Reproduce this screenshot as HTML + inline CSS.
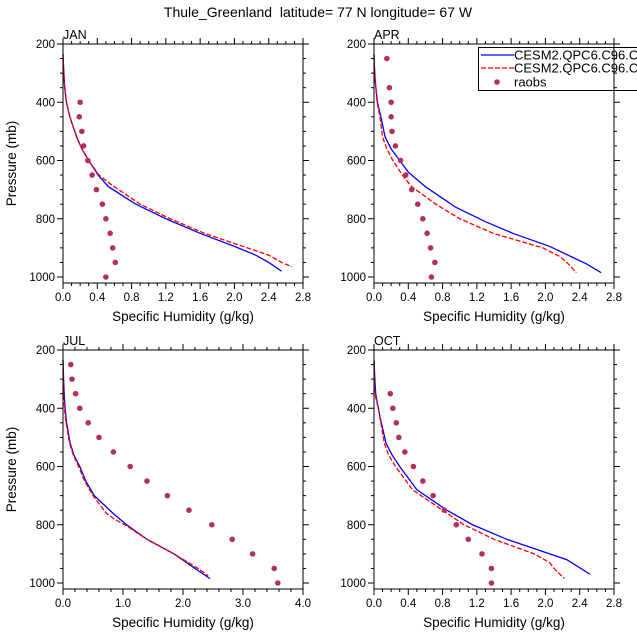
<!DOCTYPE html>
<html><head><meta charset="utf-8"><style>
html,body{margin:0;padding:0;background:#fff;}
svg{display:block;font-family:"Liberation Sans",sans-serif;}
</style></head><body>
<svg id="chart" width="637" height="639" viewBox="0 0 637 639">
<text x="318" y="17" text-anchor="middle" font-size="14">Thule_Greenland&#160; latitude= 77 N longitude= 67 W</text>
</svg>
<script>
const months = ["JAN","APR","JUL","OCT"];
const xMaxes = [2.8, 2.8, 4.0, 2.8];
const xMajorSteps = [0.4, 0.4, 1.0, 0.4];
const yTicks = [200,400,600,800,1000];

const janBlueP = [235,270,300,350,400,450,520,560,600,650,690,750,800,850,895,925,950,980];
const janBlueQ = [0.0,0.005,0.01,0.02,0.04,0.08,0.16,0.22,0.3,0.41,0.53,0.85,1.2,1.6,2.0,2.25,2.4,2.55];
const janRedP = [235,270,300,350,400,450,520,560,600,650,680,750,800,850,895,925,950,965];
const janRedQ = [0.0,0.005,0.01,0.02,0.04,0.08,0.16,0.22,0.3,0.42,0.55,0.9,1.25,1.65,2.1,2.4,2.55,2.67];
const janObsP = [400,450,500,550,600,650,700,750,800,850,900,950,1000];
const janObsQ = [0.2,0.19,0.22,0.24,0.29,0.34,0.39,0.46,0.5,0.55,0.58,0.61,0.5];

const aprBlueP = [235,280,330,400,450,520,560,600,640,690,760,810,850,895,930,955,985];
const aprBlueQ = [0.0,0.005,0.015,0.04,0.08,0.13,0.2,0.3,0.4,0.6,0.95,1.3,1.62,2.05,2.3,2.48,2.65];
const aprRedP = [235,280,330,400,450,520,560,600,650,690,750,800,850,900,930,950,985];
const aprRedQ = [0.0,0.005,0.015,0.035,0.07,0.1,0.15,0.22,0.33,0.44,0.72,1.0,1.39,1.97,2.17,2.25,2.36];
const aprObsP = [250,350,400,450,500,550,600,650,700,750,800,850,900,950,1000];
const aprObsQ = [0.15,0.18,0.2,0.2,0.21,0.25,0.31,0.37,0.44,0.51,0.57,0.62,0.66,0.71,0.67];

const julBlueP = [235,300,350,400,450,520,560,600,650,700,760,800,850,900,950,985];
const julBlueQ = [0.0,0.01,0.02,0.035,0.06,0.12,0.18,0.28,0.38,0.52,0.83,1.06,1.4,1.85,2.2,2.45];
const julRedP = [235,300,350,400,450,520,560,600,650,700,760,780,800,850,900,950,975];
const julRedQ = [0.0,0.005,0.01,0.025,0.05,0.11,0.17,0.26,0.36,0.5,0.72,0.85,1.03,1.4,1.85,2.25,2.42];
const julObsP = [250,300,350,400,450,500,550,600,650,700,750,800,850,900,950,1000];
const julObsQ = [0.13,0.15,0.21,0.28,0.42,0.6,0.84,1.12,1.4,1.74,2.1,2.48,2.82,3.16,3.52,3.58];

const octBlueP = [235,300,350,430,520,560,600,640,680,750,800,850,900,920,940,970];
const octBlueQ = [0.0,0.01,0.02,0.07,0.14,0.21,0.3,0.4,0.5,0.85,1.15,1.55,2.05,2.25,2.36,2.52];
const octRedP = [235,300,350,400,520,560,600,640,680,750,800,850,900,930,950,985];
const octRedQ = [0.0,0.005,0.01,0.05,0.12,0.17,0.25,0.35,0.45,0.8,1.05,1.4,1.87,2.05,2.1,2.22];
const octObsP = [350,400,450,500,550,600,650,700,750,800,850,900,950,1000];
const octObsQ = [0.19,0.22,0.26,0.29,0.36,0.46,0.57,0.69,0.82,0.96,1.1,1.26,1.37,1.37];

const blueP=[janBlueP,aprBlueP,julBlueP,octBlueP], blueQ=[janBlueQ,aprBlueQ,julBlueQ,octBlueQ];
const redP=[janRedP,aprRedP,julRedP,octRedP], redQ=[janRedQ,aprRedQ,julRedQ,octRedQ];
const obsP=[janObsP,aprObsP,julObsP,octObsP], obsQ=[janObsQ,aprObsQ,julObsQ,octObsQ];

const NS="http://www.w3.org/2000/svg";
const svg=document.getElementById('chart');
function mk(tag,attrs,parent){const e=document.createElementNS(NS,tag);for(const k in attrs)e.setAttribute(k,attrs[k]);(parent||svg).appendChild(e);return e;}
const boxes=[[63,44],[374,44],[63,350],[374,350]];
const W=240,H=239;
months.forEach((m,i)=>{
  const [L,T]=boxes[i];const xm=xMaxes[i];
  const g=mk('g',{});
  
  
  const X=q=>L+q/xm*W;
  const Y=p=>T+(p-200)*0.29125;
  for(let p=250;p<=1000;p+=50){
    const maj=p%200===0;const len=maj?6:3;
    mk('line',{x1:L-len,x2:L,y1:Y(p),y2:Y(p),stroke:'#000','stroke-width':1},g);
    mk('line',{x1:L+W,x2:L+W+len,y1:Y(p),y2:Y(p),stroke:'#000','stroke-width':1},g);
  }
  mk('line',{x1:L-6,x2:L,y1:T,y2:T,stroke:'#000'},g);mk('line',{x1:L+W,x2:L+W+6,y1:T,y2:T,stroke:'#000'},g);
  yTicks.forEach(p=>{
    const t=mk('text',{x:L-8,y:Y(p)+4,'text-anchor':'end','font-size':11.5},g);t.textContent=p;
    
    
  });
  const minor=xMajorSteps[i]/(i===2?5:4);
  const nMin=Math.round(xm/minor);
  for(let k=0;k<=nMin;k++){
    const q=k*minor;const maj=Math.abs(q/xMajorSteps[i]-Math.round(q/xMajorSteps[i]))<1e-6;const len=maj?6:3;
    mk('line',{x1:X(q),x2:X(q),y1:T+H,y2:T+H+len,stroke:'#000'},g);
    mk('line',{x1:X(q),x2:X(q),y1:T-len,y2:T,stroke:'#000'},g);
    if(maj){const t=mk('text',{x:X(q),y:T+H+18,'text-anchor':'middle','font-size':11.5},g);t.textContent=q.toFixed(1);
      
      }
  }
  const xt=mk('text',{x:L+W/2,y:T+H+38,'text-anchor':'middle','font-size':13.5},g);xt.textContent='Specific Humidity (g/kg)';
  
  
  if(i%2===0){const yt=mk('text',{x:0,y:0,'text-anchor':'middle','font-size':13.5,transform:`translate(16,${T+H/2}) rotate(-90)`},g);yt.textContent='Pressure (mb)';
    
    }
  const lb=mk('text',{x:L,y:T-5,'font-size':12.5},g);lb.textContent=m;
  
  
  const bl=mk('polyline',{points:blueP[i].map((p,k)=>X(blueQ[i][k])+','+Y(p)).join(' '),fill:'none',stroke:'#0000ff','stroke-width':1.3},g);
  
  
  const rl=mk('polyline',{points:redP[i].map((p,k)=>X(redQ[i][k])+','+Y(p)).join(' '),fill:'none',stroke:'#ff0000','stroke-width':1.3,'stroke-dasharray':'5,2'},g);
  
  
  obsP[i].forEach((p,k)=>{const c=mk('circle',{cx:X(obsQ[i][k]),cy:Y(p),r:2.8,fill:'#b03060'},g);
    
    });
  mk('rect',{x:L,y:T,width:W,height:H,fill:'none',stroke:'#000','stroke-width':1},g);
});
const lg=mk('g',{});


mk('rect',{x:478.5,y:47.5,width:170,height:43,fill:'none',stroke:'#000','stroke-width':1},lg);
mk('line',{x1:481,x2:514,y1:55,y2:55,stroke:'#0000ff','stroke-width':1.3},lg);
mk('line',{x1:481,x2:514,y1:68,y2:68,stroke:'#ff0000','stroke-width':1.3,'stroke-dasharray':'5,2'},lg);
mk('circle',{cx:497,cy:82,r:2.8,fill:'#b03060'},lg);
const l1=mk('text',{x:514,y:59.5,'font-size':13},lg);l1.textContent='CESM2.QPC6.C96.C96';


const l2=mk('text',{x:514,y:72.5,'font-size':13},lg);l2.textContent='CESM2.QPC6.C96.C96';


const l3=mk('text',{x:514,y:86.5,'font-size':13},lg);l3.textContent='raobs';


</script>
</body></html>
